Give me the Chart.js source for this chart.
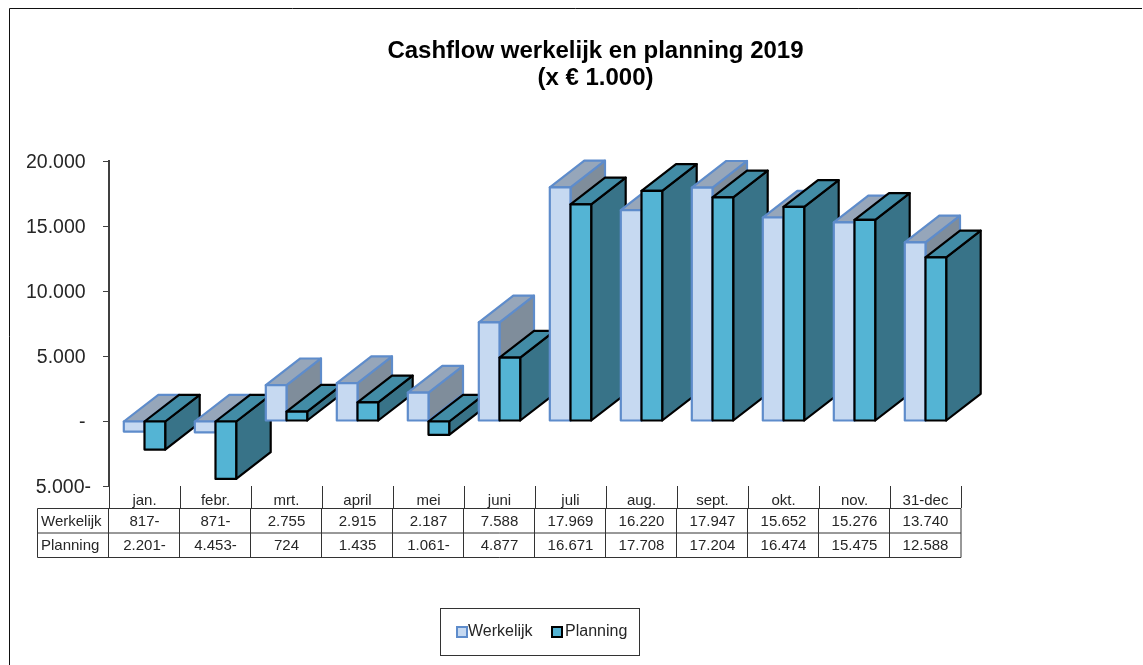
<!DOCTYPE html>
<html>
<head>
<meta charset="utf-8">
<title>Cashflow werkelijk en planning 2019</title>
<script src="https://cdn.jsdelivr.net/npm/chart.js@4/dist/chart.umd.js"></script>
<style>
    html, body { margin: 0; padding: 0; background: #fff; }
    canvas { display: block; }
</style>
</head>
<body>
<canvas id="myChart" width="1143" height="665"></canvas>
<script>
const months = ["jan.", "febr.", "mrt.", "april", "mei", "juni", "juli", "aug.", "sept.", "okt.", "nov.", "31-dec"];
const werkelijk = [-817, -871, 2755, 2915, 2187, 7588, 17969, 16220, 17947, 15652, 15276, 13740];
const planning = [-2201, -4453, 724, 1435, -1061, 4877, 16671, 17708, 17204, 16474, 15475, 12588];
const chartTitle = ["Cashflow werkelijk en planning 2019", "(x € 1.000)"];

const FONT = '"Liberation Sans", Arial, sans-serif';
const TEXT = '#262626';
const LINE = '#333333';
const DEPTH_X = 34.5;
const DEPTH_Y = 26.7;

// 1234 -> 1.234, -1234 -> 1.234-
function fmt(v) {
    const s = String(Math.abs(v)).replace(/\B(?=(\d{3})+$)/g, '.');
    return v < 0 ? s + '-' : s;
}

function poly(ctx, pts, fill, stroke) {
    ctx.beginPath();
    pts.forEach((p, i) => i ? ctx.lineTo(p[0], p[1]) : ctx.moveTo(p[0], p[1]));
    ctx.closePath();
    ctx.fillStyle = fill;
    ctx.fill();
    ctx.lineWidth = 2.2;
    ctx.lineJoin = 'round';
    ctx.strokeStyle = stroke;
    ctx.stroke();
}

// boxes are painted per month, left to right, so later ones cover earlier depth
const bars3d = {
    id: 'bars3d',
    beforeDatasetsDraw(chart) {
        const ctx = chart.ctx;
        ctx.save();
        months.forEach((m, i) => {
            chart.data.datasets.forEach((ds, d) => {
                const el = chart.getDatasetMeta(d).data[i];
                const l = el.x - el.width / 2;
                const r = el.x + el.width / 2;
                const t = Math.min(el.y, el.base);
                const b = Math.max(el.y, el.base);
                poly(ctx, [[r, t], [r + DEPTH_X, t - DEPTH_Y], [r + DEPTH_X, b - DEPTH_Y], [r, b]], ds.sideColor, ds.borderColor);
                poly(ctx, [[l, t], [l + DEPTH_X, t - DEPTH_Y], [r + DEPTH_X, t - DEPTH_Y], [r, t]], ds.topColor, ds.borderColor);
                poly(ctx, [[l, t], [r, t], [r, b], [l, b]], ds.backgroundColor, ds.borderColor);
            });
        });
        ctx.restore();
        return false;
    }
};

const dataTable = {
    id: 'dataTable',
    afterDraw(chart) {
        const ctx = chart.ctx;
        const x = chart.scales.x;
        const half = (x.getPixelForValue(1) - x.getPixelForValue(0)) / 2;
        const rows = [508.5, 533, 557.5];
        const left = 37.5;
        const right = x.right;
        ctx.save();
        ctx.strokeStyle = LINE;
        ctx.lineWidth = 1;
        ctx.beginPath();
        rows.forEach(y => { ctx.moveTo(left, y); ctx.lineTo(right, y); });
        ctx.moveTo(left, rows[0]);
        ctx.lineTo(left, rows[2]);
        for (let i = 0; i < months.length; i++) {
            const px = Math.round(x.getPixelForValue(i) - half) - 0.5;
            ctx.moveTo(px, rows[0]);
            ctx.lineTo(px, rows[2]);
        }
        ctx.moveTo(right, rows[0]);
        ctx.lineTo(right, rows[2]);
        ctx.stroke();

        ctx.font = '15px ' + FONT;
        ctx.fillStyle = TEXT;
        ctx.textBaseline = 'middle';
        chart.data.datasets.forEach((ds, d) => {
            const y = (rows[d] + rows[d + 1]) / 2 + 1;
            ctx.textAlign = 'left';
            ctx.fillText(ds.label, 41, y);
            ctx.textAlign = 'center';
            ds.data.forEach((v, i) => ctx.fillText(fmt(v), x.getPixelForValue(i), y));
        });
        ctx.restore();
    }
};

const boxLegend = {
    id: 'boxLegend',
    afterDraw(chart) {
        const ctx = chart.ctx;
        const spots = [{ box: 457, text: 468 }, { box: 552, text: 565 }];
        ctx.save();
        ctx.strokeStyle = '#333';
        ctx.lineWidth = 1;
        ctx.strokeRect(440.5, 608.5, 199, 47);
        ctx.font = '16px ' + FONT;
        ctx.textBaseline = 'middle';
        ctx.textAlign = 'left';
        chart.data.datasets.forEach((ds, d) => {
            ctx.fillStyle = ds.backgroundColor;
            ctx.fillRect(spots[d].box, 627, 10, 10);
            ctx.strokeStyle = ds.borderColor;
            ctx.lineWidth = 2;
            ctx.strokeRect(spots[d].box, 627, 10, 10);
            ctx.fillStyle = TEXT;
            ctx.fillText(ds.label, spots[d].text, 632);
        });
        ctx.restore();
    }
};

const frame = {
    id: 'frame',
    beforeDraw(chart) {
        const ctx = chart.ctx;
        ctx.save();
        ctx.strokeStyle = '#111';
        ctx.lineWidth = 1;
        ctx.beginPath();
        ctx.moveTo(9.5, 665);
        ctx.lineTo(9.5, 8.5);
        ctx.lineTo(1142, 8.5);
        ctx.stroke();
        ctx.restore();
    },
    afterLayout(chart) {
        // title sits centred over the whole picture, not the plot
        chart.titleBlock.left = 387;
        chart.titleBlock.right = 804;
    }
};

const ctx = document.getElementById("myChart").getContext('2d');

const myChart = new Chart(ctx, {
    type: 'bar',
    data: {
        labels: months,
        datasets: [{
            label: "Werkelijk",
            data: werkelijk,
            backgroundColor: '#C6D9F1',
            borderColor: '#5E8CCB',
            topColor: '#96A6BA',
            sideColor: '#7F8D9B'
        }, {
            label: "Planning",
            data: planning,
            backgroundColor: '#54B4D4',
            borderColor: '#000000',
            topColor: '#428CA6',
            sideColor: '#387388'
        }]
    },
    options: {
        responsive: false,
        animation: false,
        events: [],
        barPercentage: 1,
        categoryPercentage: 0.583,
        layout: {
            autoPadding: false,
            padding: { left: 0, right: 182, top: 0, bottom: 0 }
        },
        plugins: {
            legend: { display: false },
            tooltip: { enabled: false },
            title: {
                display: true,
                text: chartTitle,
                color: '#000',
                font: { family: FONT, size: 24, weight: 'bold', lineHeight: 1.125 },
                padding: { top: 38, bottom: 69 }
            }
        },
        scales: {
            x: {
                afterFit(scale) { scale.height = 179; },
                border: { display: false },
                grid: { drawOnChartArea: false, tickLength: 22, color: LINE, offset: true },
                ticks: {
                    autoSkip: false,
                    maxRotation: 0,
                    padding: -16,
                    color: TEXT,
                    font: { family: FONT, size: 15 }
                }
            },
            y: {
                min: -5000,
                max: 20000,
                afterFit(scale) { scale.width = 109; },
                border: { display: true, color: '#404040', width: 2 },
                grid: { drawOnChartArea: false, tickLength: 6, tickColor: '#404040' },
                ticks: {
                    stepSize: 5000,
                    padding: 12,
                    labelOffset: 2,
                    color: TEXT,
                    font: { family: FONT, size: 19.5 },
                    // trailing space keeps the digits lined up with the 5.000- label
                    callback: v => (v === 0 ? '-' : fmt(v)) + (v < 0 ? '' : ' ')
                }
            }
        }
    },
    plugins: [frame, bars3d, dataTable, boxLegend]
});
</script>
</body>
</html>
